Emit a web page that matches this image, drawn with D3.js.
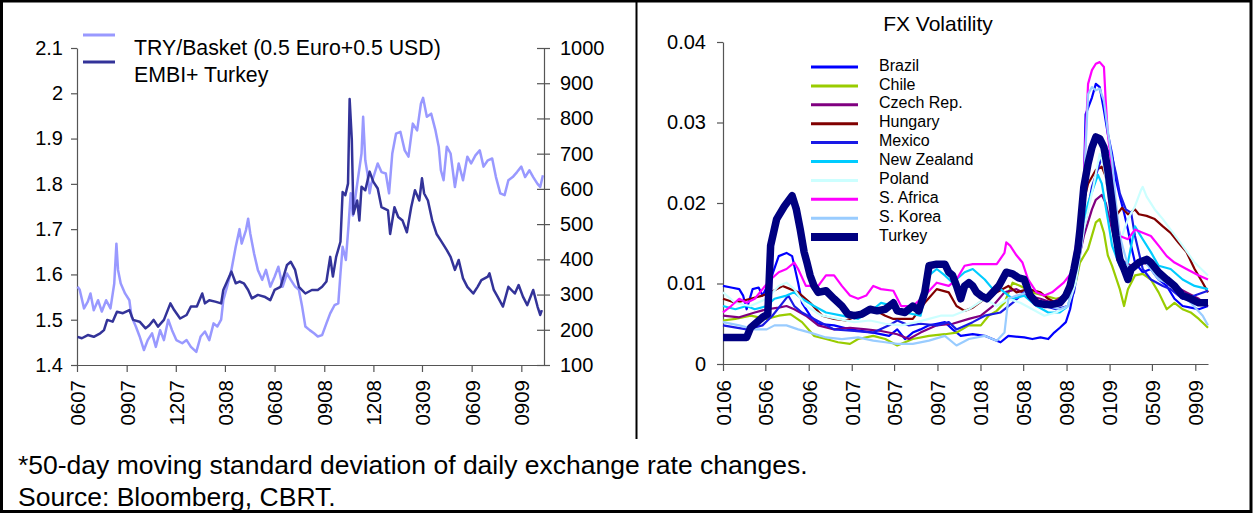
<!DOCTYPE html>
<html><head><meta charset="utf-8">
<script src="https://cdn.jsdelivr.net/npm/d3@7"></script>
<style>
body{margin:0;background:#fff}
svg{display:block}
text{font-family:"Liberation Sans",Arial,Helvetica,sans-serif;fill:#000}
</style></head>
<body><svg id="chart" width="1256" height="514"></svg>
<script>
// ---------------- DATA ----------------
// Left panel: TRY/Basket (left axis) and EMBI+ Turkey spread (right axis)
const leftXTickDates = ["2007-06-01","2007-09-01","2007-12-01","2008-03-01","2008-06-01","2008-09-01","2008-12-01","2009-03-01","2009-06-01","2009-09-01"];
const leftYTicks = [1.4,1.5,1.6,1.7,1.8,1.9,2.0,2.1];
const leftYTickLabels = ["1.4","1.5","1.6","1.7","1.8","1.9","2","2.1"];
const rightYTicks = [100,200,300,400,500,600,700,800,900,1000];
const leftSeriesNames = ["TRY/Basket (0.5 Euro+0.5 USD)","EMBI+ Turkey"];

const tryBasket = [["2007-06-02",1.573],["2007-06-06",1.566],["2007-06-14",1.525],["2007-06-21",1.54],["2007-06-26",1.558],["2007-07-02",1.521],["2007-07-10",1.543],["2007-07-17",1.518],["2007-07-25",1.543],["2007-08-02",1.525],["2007-08-09",1.58],["2007-08-13",1.668],["2007-08-16",1.61],["2007-08-21",1.58],["2007-08-29",1.558],["2007-09-06",1.543],["2007-09-10",1.507],["2007-09-18",1.485],["2007-09-25",1.463],["2007-10-03",1.433],["2007-10-10",1.455],["2007-10-18",1.47],["2007-10-25",1.44],["2007-11-02",1.477],["2007-11-09",1.455],["2007-11-17",1.5],["2007-11-24",1.477],["2007-12-02",1.455],["2007-12-13",1.448],["2007-12-21",1.455],["2007-12-29",1.44],["2008-01-08",1.429],["2008-01-16",1.463],["2008-01-24",1.474],["2008-02-01",1.455],["2008-02-09",1.492],["2008-02-16",1.485],["2008-02-23",1.5],["2008-02-27",1.543],["2008-03-05",1.573],["2008-03-13",1.61],["2008-03-21",1.661],["2008-03-28",1.7],["2008-04-01",1.668],["2008-04-09",1.698],["2008-04-13",1.723],["2008-04-17",1.69],["2008-04-24",1.646],["2008-05-01",1.61],["2008-05-09",1.588],["2008-05-16",1.61],["2008-05-24",1.573],["2008-06-01",1.595],["2008-06-08",1.617],["2008-06-16",1.573],["2008-06-24",1.602],["2008-07-01",1.588],["2008-07-09",1.573],["2008-07-16",1.566],["2008-07-22",1.529],["2008-07-28",1.485],["2008-08-05",1.477],["2008-08-13",1.47],["2008-08-20",1.463],["2008-08-28",1.466],["2008-09-05",1.492],["2008-09-12",1.514],["2008-09-20",1.532],["2008-09-27",1.536],["2008-10-01",1.602],["2008-10-05",1.661],["2008-10-11",1.632],["2008-10-16",1.709],["2008-10-20",1.779],["2008-10-24",1.73],["2008-11-01",1.8],["2008-11-09",1.867],["2008-11-12",1.948],["2008-11-16",1.852],["2008-11-20",1.823],["2008-11-24",1.779],["2008-11-27",1.8],["2008-12-01",1.815],["2008-12-09",1.845],["2008-12-16",1.826],["2008-12-24",1.823],["2008-12-30",1.779],["2009-01-05",1.867],["2009-01-12",1.911],["2009-01-20",1.915],["2009-01-28",1.874],["2009-02-04",1.86],["2009-02-12",1.933],["2009-02-20",1.918],["2009-02-27",1.977],["2009-03-03",1.99],["2009-03-10",1.948],["2009-03-18",1.955],["2009-03-26",1.918],["2009-04-01",1.882],["2009-04-05",1.83],["2009-04-10",1.808],["2009-04-16",1.882],["2009-04-23",1.867],["2009-05-01",1.793],["2009-05-08",1.845],["2009-05-16",1.808],["2009-05-24",1.86],["2009-05-31",1.845],["2009-06-08",1.863],["2009-06-16",1.874],["2009-06-23",1.838],["2009-07-01",1.852],["2009-07-09",1.856],["2009-07-16",1.815],["2009-07-24",1.779],["2009-08-01",1.775],["2009-08-08",1.808],["2009-08-16",1.815],["2009-08-24",1.826],["2009-09-01",1.838],["2009-09-08",1.815],["2009-09-16",1.83],["2009-09-23",1.815],["2009-10-01",1.8],["2009-10-06",1.793],["2009-10-11",1.819]];

const embiTurkey = [["2007-06-02",180],["2007-06-10",176],["2007-06-21",185],["2007-07-02",180],["2007-07-14",190],["2007-07-21",199],["2007-07-27",228],["2007-08-06",223],["2007-08-14",251],["2007-08-25",247],["2007-09-06",256],["2007-09-13",228],["2007-09-25",223],["2007-10-06",204],["2007-10-13",213],["2007-10-21",228],["2007-10-29",209],["2007-11-09",228],["2007-11-21",275],["2007-11-28",256],["2007-12-09",232],["2007-12-21",242],["2007-12-29",266],["2008-01-09",266],["2008-01-19",303],["2008-01-24",275],["2008-02-01",284],["2008-02-12",280],["2008-02-23",275],["2008-02-27",313],["2008-03-05",337],["2008-03-13",365],["2008-03-21",332],["2008-03-28",337],["2008-04-05",332],["2008-04-13",313],["2008-04-20",289],["2008-05-01",299],["2008-05-13",294],["2008-05-24",284],["2008-06-01",313],["2008-06-12",322],["2008-06-24",384],["2008-07-01",393],["2008-07-09",370],["2008-07-16",322],["2008-07-28",303],["2008-08-09",313],["2008-08-20",313],["2008-08-28",322],["2008-09-05",337],["2008-09-12",407],["2008-09-17",351],["2008-09-23",407],["2008-10-01",450],["2008-10-05",591],["2008-10-10",582],["2008-10-15",615],["2008-10-18",855],["2008-10-22",740],["2008-10-25",529],["2008-11-01",567],["2008-11-05",510],["2008-11-09",606],["2008-11-16",596],["2008-11-24",649],["2008-12-01",620],["2008-12-09",601],["2008-12-16",548],["2008-12-28",539],["2009-01-01",472],["2009-01-09",548],["2009-01-16",520],["2009-01-24",510],["2009-02-01",477],["2009-02-09",548],["2009-02-16",596],["2009-02-24",567],["2009-03-01",630],["2009-03-05",587],["2009-03-12",567],["2009-03-20",510],["2009-03-28",472],["2009-04-05",453],["2009-04-16",426],["2009-04-23",407],["2009-05-01",370],["2009-05-08",398],["2009-05-16",346],["2009-05-24",322],["2009-06-04",303],["2009-06-12",322],["2009-06-19",341],["2009-07-01",351],["2009-07-04",360],["2009-07-12",313],["2009-07-19",294],["2009-07-29",266],["2009-08-08",322],["2009-08-20",303],["2009-08-27",327],["2009-09-04",294],["2009-09-12",270],["2009-09-23",313],["2009-10-01",266],["2009-10-06",242],["2009-10-09",256]];

// Right panel: FX volatility
const fxXTickDates = ["2006-01-01","2006-05-01","2006-09-01","2007-01-01","2007-05-01","2007-09-01","2008-01-01","2008-05-01","2008-09-01","2009-01-01","2009-05-01","2009-09-01"];
const fxYTicks = [0,0.01,0.02,0.03,0.04];
const fxYTickLabels = ["0","0.01","0.02","0.03","0.04"];
const fxCountries = ["Brazil","Chile","Czech Rep.","Hungary","Mexico","New Zealand","Poland","S. Africa","S. Korea","Turkey"];

const brazil = [["2006-01-01",.0097],["2006-01-24",.0095],["2006-02-16",.0093],["2006-02-27",.0085],["2006-03-09",.0068],["2006-03-26",.0093],["2006-04-12",.0095],["2006-04-23",.0085],["2006-05-16",.0105],["2006-06-08",.0134],["2006-06-30",.0138],["2006-07-16",.0134],["2006-08-02",.0101],["2006-08-13",.0076],["2006-09-05",.006],["2006-09-28",.005],["2006-11-12",.0048],["2006-12-27",.0043],["2007-03-03",.0039],["2007-04-17",.0035],["2007-05-10",.0043],["2007-06-01",.0031],["2007-06-23",.0039],["2007-07-15",.0043],["2007-08-08",.0048],["2007-08-30",.005],["2007-09-22",.0052],["2007-10-14",.0043],["2007-11-06",.0035],["2007-12-10",.0037],["2008-01-13",.0035],["2008-02-16",.0029],["2008-02-27",.0027],["2008-03-20",.0035],["2008-05-04",.0033],["2008-05-27",.0031],["2008-06-19",.0033],["2008-07-11",.0031],["2008-07-28",.0039],["2008-08-13",.0045],["2008-08-30",.0052],["2008-09-11",.0068],["2008-09-22",.0093],["2008-10-03",.0126],["2008-10-09",.0159],["2008-10-20",.022],["2008-10-25",.031],["2008-11-12",.0331],["2008-11-23",.0348],["2008-12-04",.0344],["2008-12-16",.0315],["2008-12-27",.0286],["2009-01-08",.0261],["2009-01-19",.0229],["2009-01-30",.0208],["2009-02-11",.0188],["2009-02-22",.0167],["2009-03-03",.0147],["2009-03-14",.0126],["2009-04-05",.0114],["2009-04-28",.0118],["2009-05-20",.0105],["2009-06-12",.0097],["2009-07-04",.0081],["2009-07-27",.0072],["2009-08-19",.007],["2009-09-11",.0068],["2009-10-07",.0072]];
const chile = [["2006-01-01",.0054],["2006-02-05",.0056],["2006-03-20",.006],["2006-05-05",.0056],["2006-06-08",.006],["2006-07-11",.0062],["2006-08-13",.0052],["2006-09-16",.0035],["2006-10-20",.0031],["2006-11-23",.0027],["2006-12-27",.0025],["2007-01-19",.0031],["2007-03-03",.0035],["2007-04-06",.0031],["2007-05-10",.0023],["2007-06-23",.0031],["2007-08-08",.0035],["2007-09-22",.0037],["2007-10-25",.0039],["2007-11-29",.0048],["2008-01-02",.0048],["2008-01-24",.006],["2008-02-16",.0066],["2008-03-09",.0076],["2008-04-01",.0101],["2008-04-23",.0097],["2008-05-27",.0089],["2008-06-30",.0085],["2008-08-02",.0081],["2008-09-05",.0085],["2008-09-27",.0101],["2008-10-09",.0126],["2008-11-01",.0143],["2008-11-23",.0176],["2008-12-04",.018],["2008-12-16",.0163],["2008-12-27",.0135],["2009-01-08",.0122],["2009-01-30",.0093],["2009-02-11",.0072],["2009-02-22",.0093],["2009-03-14",.011],["2009-04-05",.0112],["2009-04-28",.0105],["2009-05-20",.0089],["2009-06-12",.0068],["2009-07-04",.0076],["2009-07-27",.0068],["2009-08-19",.0064],["2009-09-11",.0056],["2009-10-07",.0045]];
const czech = [["2006-01-01",.006],["2006-02-16",.0058],["2006-04-01",.0064],["2006-05-05",.0068],["2006-06-08",.007],["2006-06-30",.0072],["2006-07-22",.0068],["2006-08-24",.006],["2006-09-28",.0048],["2006-11-12",.0043],["2006-12-27",.0045],["2007-02-11",.0043],["2007-03-25",.0041],["2007-05-10",.0037],["2007-06-12",.0031],["2007-07-15",.0039],["2007-08-30",.0048],["2007-10-14",.005],["2007-11-29",.0056],["2008-01-02",.006],["2008-02-05",.0072],["2008-03-09",.0089],["2008-04-12",.0093],["2008-05-15",.0085],["2008-06-19",.0081],["2008-07-22",.0076],["2008-08-24",.0085],["2008-09-16",.0097],["2008-10-03",.0126],["2008-10-20",.0159],["2008-11-12",.0192],["2008-11-23",.0204],["2008-12-10",.021],["2008-12-21",.02],["2009-01-08",.0167],["2009-01-30",.013],["2009-03-03",.0122],["2009-04-05",.0126],["2009-04-28",.0122],["2009-06-01",.011],["2009-07-04",.0097],["2009-08-07",.0089],["2009-09-11",.0081],["2009-10-07",.0072]];
const hungary = [["2006-01-01",.0081],["2006-02-05",.0076],["2006-03-20",.0081],["2006-04-23",.0085],["2006-05-16",.0089],["2006-06-19",.0097],["2006-07-11",.0093],["2006-08-02",.0089],["2006-09-05",.0076],["2006-10-09",.006],["2006-11-12",.0056],["2006-12-15",.0054],["2007-01-19",.006],["2007-02-11",.0068],["2007-03-03",.0068],["2007-04-06",.006],["2007-04-29",.0056],["2007-06-23",.0056],["2007-07-27",.0076],["2007-08-30",.0093],["2007-10-03",.0089],["2007-10-25",.0072],["2007-11-17",.0066],["2007-12-10",.007],["2008-01-13",.0081],["2008-02-16",.0089],["2008-03-20",.0097],["2008-04-12",.0089],["2008-05-15",.0093],["2008-06-19",.0089],["2008-07-11",.0081],["2008-08-02",.0076],["2008-08-24",.0081],["2008-09-16",.0101],["2008-10-03",.0126],["2008-10-14",.0192],["2008-11-01",.0224],["2008-11-23",.0241],["2008-12-10",.0245],["2008-12-21",.0233],["2009-01-02",.02],["2009-01-19",.0184],["2009-02-05",.0194],["2009-02-22",.0186],["2009-03-14",.0192],["2009-03-25",.0186],["2009-04-16",.0184],["2009-05-09",.018],["2009-06-01",.0171],["2009-06-23",.0163],["2009-07-15",.0151],["2009-08-07",.0139],["2009-08-30",.0118],["2009-09-22",.0101],["2009-10-07",.0089]];
const mexico = [["2006-01-01",.0048],["2006-03-09",.0043],["2006-04-23",.0048],["2006-05-21",.006],["2006-06-19",.0076],["2006-07-05",.0085],["2006-07-22",.0072],["2006-08-13",.0064],["2006-09-16",.0056],["2006-11-12",.0043],["2007-01-08",.0041],["2007-03-03",.0039],["2007-04-17",.0048],["2007-05-10",.0054],["2007-06-12",.0048],["2007-07-15",.005],["2007-08-30",.0048],["2007-10-03",.0052],["2007-10-25",.0043],["2007-12-10",.0052],["2008-01-13",.006],["2008-02-27",.0064],["2008-04-01",.0076],["2008-05-04",.0089],["2008-05-27",.0081],["2008-06-30",.0072],["2008-08-02",.0068],["2008-09-05",.0072],["2008-09-22",.0089],["2008-10-03",.0118],["2008-10-20",.0167],["2008-11-12",.022],["2008-12-04",.0249],["2008-12-21",.0269],["2009-01-08",.0257],["2009-01-19",.0237],["2009-01-30",.0212],["2009-02-16",.0192],["2009-03-03",.0188],["2009-03-14",.0159],["2009-04-05",.0118],["2009-04-28",.0105],["2009-06-01",.0097],["2009-06-23",.0093],["2009-07-27",.0081],["2009-08-30",.0085],["2009-10-07",.0091]];
const newZealand = [["2006-01-01",.0072],["2006-02-05",.0068],["2006-03-09",.0072],["2006-04-01",.0068],["2006-05-05",.0072],["2006-05-27",.0081],["2006-06-30",.0085],["2006-07-22",.0089],["2006-08-13",.0081],["2006-09-16",.0072],["2006-10-20",.0064],["2006-12-04",.006],["2007-01-19",.0056],["2007-03-03",.0068],["2007-03-25",.0076],["2007-04-29",.0072],["2007-06-01",.0064],["2007-07-15",.006],["2007-08-08",.011],["2007-08-30",.0118],["2007-09-22",.011],["2007-10-14",.0101],["2007-11-17",.0114],["2007-12-10",.0118],["2008-01-13",.0105],["2008-02-05",.0093],["2008-02-27",.0093],["2008-04-01",.0081],["2008-05-04",.0085],["2008-06-08",.0072],["2008-07-11",.0064],["2008-08-13",.0064],["2008-09-05",.0072],["2008-09-27",.011],["2008-10-14",.0167],["2008-11-01",.02],["2008-11-29",.0235],["2008-12-10",.0224],["2008-12-27",.018],["2009-01-08",.0147],["2009-01-30",.0122],["2009-02-22",.0126],["2009-03-14",.0171],["2009-04-05",.0155],["2009-04-28",.0139],["2009-05-20",.0122],["2009-06-23",.0118],["2009-07-27",.0105],["2009-08-30",.0097],["2009-10-07",.0093]];
const poland = [["2006-01-01",.0089],["2006-02-05",.0076],["2006-03-20",.0072],["2006-05-05",.0081],["2006-06-08",.0097],["2006-06-30",.0101],["2006-07-22",.0093],["2006-08-24",.0072],["2006-10-09",.006],["2006-11-23",.0056],["2007-01-08",.0052],["2007-02-22",.0054],["2007-04-06",.005],["2007-05-21",.0048],["2007-07-04",.0052],["2007-08-08",.0056],["2007-09-10",.006],["2007-10-14",.006],["2007-11-29",.0068],["2008-01-13",.0081],["2008-02-16",.0072],["2008-03-20",.0081],["2008-04-23",.0076],["2008-05-27",.0068],["2008-06-30",.006],["2008-08-02",.0064],["2008-09-05",.0072],["2008-09-27",.0101],["2008-10-20",.0167],["2008-11-12",.0212],["2008-12-04",.0261],["2008-12-16",.0245],["2009-01-08",.018],["2009-01-30",.0151],["2009-02-22",.018],["2009-03-14",.0196],["2009-03-31",.0216],["2009-04-05",.022],["2009-04-16",.0208],["2009-05-09",.0192],["2009-06-01",.018],["2009-06-23",.0167],["2009-07-27",.0147],["2009-08-30",.0126],["2009-10-07",.011]];
const sAfrica = [["2006-01-01",.0064],["2006-01-24",.0072],["2006-02-16",.0081],["2006-03-09",.0076],["2006-04-01",.0081],["2006-04-23",.0093],["2006-05-16",.0105],["2006-06-08",.0114],["2006-06-30",.0118],["2006-07-22",.0126],["2006-08-02",.0118],["2006-08-24",.0097],["2006-09-28",.0097],["2006-10-20",.011],["2006-11-12",.011],["2006-12-04",.0097],["2006-12-27",.0085],["2007-01-19",.0081],["2007-02-11",.0085],["2007-03-03",.0097],["2007-03-25",.0093],["2007-04-29",.0091],["2007-05-21",.0072],["2007-06-23",.0072],["2007-07-27",.0085],["2007-08-30",.0101],["2007-10-03",.0097],["2007-10-25",.0105],["2007-11-17",.0122],["2007-12-10",.0124],["2008-01-13",.0124],["2008-02-16",.0124],["2008-03-09",.0138],["2008-03-14",.0151],["2008-03-25",.0147],["2008-04-12",.0135],["2008-04-29",.0126],["2008-05-15",.0105],["2008-06-08",.0089],["2008-06-30",.0085],["2008-07-22",.0089],["2008-08-24",.0101],["2008-09-16",.0114],["2008-10-09",.018],["2008-10-20",.0233],["2008-11-01",.0348],["2008-11-12",.0365],["2008-11-23",.0373],["2008-12-04",.0375],["2008-12-16",.0369],["2008-12-21",.0327],["2008-12-27",.0286],["2009-01-08",.0241],["2009-01-19",.0188],["2009-01-30",.0159],["2009-02-22",.0155],["2009-03-14",.0167],["2009-04-05",.0163],["2009-04-28",.0159],["2009-05-20",.0147],["2009-06-12",.0134],["2009-07-04",.0126],["2009-08-07",.0118],["2009-09-11",.011],["2009-10-07",.0105]];
const sKorea = [["2006-01-01",.0052],["2006-02-16",.0048],["2006-04-01",.0043],["2006-05-05",.0043],["2006-05-27",.0048],["2006-06-30",.0048],["2006-08-02",.0043],["2006-09-05",.0039],["2006-10-20",.0033],["2006-12-04",.0031],["2007-01-19",.0033],["2007-03-03",.0029],["2007-04-06",.0027],["2007-05-10",.0025],["2007-06-23",.0025],["2007-08-08",.0029],["2007-09-22",.0035],["2007-10-25",.0023],["2007-11-29",.0031],["2008-01-13",.0035],["2008-02-16",.0029],["2008-03-09",.0039],["2008-03-20",.0081],["2008-04-12",.0085],["2008-05-15",.0089],["2008-06-08",.0076],["2008-07-11",.0072],["2008-08-13",.0068],["2008-09-05",.0072],["2008-09-22",.0105],["2008-10-09",.0167],["2008-10-20",.022],["2008-11-01",.0335],["2008-11-12",.0344],["2008-11-23",.034],["2008-12-04",.0342],["2008-12-16",.0327],["2008-12-27",.029],["2009-01-08",.0253],["2009-01-19",.02],["2009-01-30",.0159],["2009-02-22",.0122],["2009-03-14",.0118],["2009-04-05",.013],["2009-04-28",.0118],["2009-05-20",.0105],["2009-06-12",.0101],["2009-07-15",.0089],["2009-08-19",.0076],["2009-09-22",.006],["2009-10-07",.0048]];
const turkey = [["2006-01-01",.0033],["2006-03-09",.0033],["2006-03-20",.0045],["2006-04-23",.0058],["2006-05-08",.0062],["2006-05-16",.0147],["2006-06-02",.018],["2006-06-24",.0196],["2006-07-16",.0209],["2006-07-28",.0192],["2006-08-08",.0167],["2006-08-19",.0139],["2006-08-27",.0126],["2006-09-05",.011],["2006-09-16",.0097],["2006-09-28",.0089],["2006-10-20",.0091],["2006-11-12",.0081],["2006-12-04",.0072],["2006-12-21",.0062],["2007-01-08",.006],["2007-01-30",.0062],["2007-02-22",.0068],["2007-03-14",.0066],["2007-04-06",.0068],["2007-04-29",.0076],["2007-05-10",.0066],["2007-06-01",.0064],["2007-06-23",.0072],["2007-07-10",.0066],["2007-07-27",.0089],["2007-08-08",.0122],["2007-08-30",.0124],["2007-09-22",.0124],["2007-10-03",.0114],["2007-10-14",.011],["2007-10-25",.0097],["2007-11-06",.0081],["2007-11-17",.0097],["2007-11-29",.0101],["2007-12-10",.0097],["2007-12-21",.0089],["2008-01-02",.0085],["2008-01-19",.0081],["2008-02-05",.0089],["2008-02-22",.0097],["2008-03-14",.0114],["2008-04-01",.0112],["2008-04-18",.0107],["2008-05-04",.0105],["2008-05-21",.0085],["2008-06-08",.0076],["2008-06-30",.0074],["2008-07-22",.0074],["2008-08-13",.0076],["2008-08-30",.0085],["2008-09-11",.0097],["2008-09-22",.0118],["2008-10-03",.0143],["2008-10-09",.0167],["2008-10-20",.022],["2008-11-01",.0249],["2008-11-12",.0269],["2008-11-23",.0282],["2008-12-04",.028],["2008-12-16",.0269],["2008-12-27",.0241],["2009-01-08",.02],["2009-01-19",.0159],["2009-01-30",.013],["2009-02-11",.0118],["2009-02-22",.0105],["2009-03-03",.0118],["2009-03-25",.0126],["2009-04-16",.013],["2009-04-28",.0126],["2009-05-20",.0114],["2009-06-12",.0105],["2009-07-04",.0097],["2009-07-27",.0085],["2009-08-19",.0081],["2009-09-11",.0076],["2009-10-07",.0076]];

const fxSeries = [brazil, chile, czech, hungary, mexico, newZealand, poland, sAfrica, sKorea, turkey];

const footnotes = ["*50-day moving standard deviation of daily exchange rate changes.","Source: Bloomberg, CBRT."];

// ---------------- STYLE ----------------
const fxColors = ["#0000FF","#99CC00","#800080","#800000","#1A1AE6","#00CCFF","#CCFFFF","#FF00FF","#99CCFF","#000080"];
const fxWidths = [2.2,2.2,2.2,2.2,2.2,2.2,2.2,2.2,2.2,7.5];
const leftColors = ["#9999FF","#333399"];
const AXIS = "#555";

const parse = d3.timeParse("%Y-%m-%d");
const fmtMY = d3.timeFormat("%m%y");
const svg = d3.select("#chart");

// frame
svg.append("rect").attr("x",1.5).attr("y",1).attr("width",1249.5).attr("height",510.5)
  .attr("fill","none").attr("stroke","#000").attr("stroke-width",3);
svg.append("line").attr("x1",636.5).attr("x2",636.5).attr("y1",0).attr("y2",439)
  .attr("stroke","#000").attr("stroke-width",2);

function styleAxis(g){
  g.select(".domain").attr("stroke",AXIS).attr("stroke-width",1.2);
  g.selectAll(".tick line").attr("stroke",AXIS).attr("stroke-width",1.2);
  g.selectAll(".tick text").attr("font-family",'"Liberation Sans",Arial,sans-serif').attr("fill","#000");
}

// ===== LEFT PANEL =====
const L = {x0:77, x1:544, yTop:48, yBot:365};
const xL = d3.scaleTime().domain([parse("2007-06-01"), parse("2009-10-13")]).range([L.x0, L.x1]);
const yL = d3.scaleLinear().domain([1.4,2.1]).range([L.yBot, L.yTop]);
const yR = d3.scaleLinear().domain([100,1000]).range([L.yBot, L.yTop]);

const gLX = svg.append("g").attr("transform",`translate(0,${L.yBot})`)
  .call(d3.axisBottom(xL).tickValues(leftXTickDates.map(parse)).tickFormat(fmtMY).tickSize(7).tickSizeOuter(0));
styleAxis(gLX);
gLX.selectAll(".tick text").attr("font-size",20.5).attr("transform","rotate(-90)")
  .attr("text-anchor","end").attr("x",-15).attr("y",0).attr("dy","0.36em");

const gLY = svg.append("g").attr("transform",`translate(${L.x0},0)`)
  .call(d3.axisLeft(yL).tickValues(leftYTicks).tickFormat((d,i)=>leftYTickLabels[i]).tickSize(6).tickPadding(8).tickSizeOuter(0));
styleAxis(gLY);
gLY.selectAll(".tick text").attr("font-size",20);

const gRY = svg.append("g").attr("transform",`translate(${L.x1},0)`)
  .call(d3.axisRight(yR).tickValues(rightYTicks).tickFormat(d3.format("d")).tickSize(6).tickPadding(10).tickSizeOuter(0));
styleAxis(gRY);
gRY.selectAll(".tick line").attr("x1",-7);
gRY.selectAll(".tick text").attr("font-size",20);

const lineL = d3.line().x(d=>xL(parse(d[0]))).y(d=>yL(d[1]));
const lineR = d3.line().x(d=>xL(parse(d[0]))).y(d=>yR(d[1]));
svg.append("path").datum(tryBasket).attr("d",lineL).attr("fill","none")
  .attr("stroke",leftColors[0]).attr("stroke-width",2.5).attr("stroke-linejoin","round");
svg.append("path").datum(embiTurkey).attr("d",lineR).attr("fill","none")
  .attr("stroke",leftColors[1]).attr("stroke-width",2.5).attr("stroke-linejoin","round");

// left legend
const legL = svg.append("g");
[35,62].forEach((ly,i)=>{
  legL.append("line").attr("x1",83).attr("x2",115).attr("y1",ly).attr("y2",ly)
    .attr("stroke",leftColors[i]).attr("stroke-width",3);
  legL.append("text").attr("x",134).attr("y",ly+13).attr("dy","0.35em")
    .attr("font-size",21.3).text(leftSeriesNames[i]);
});

// ===== RIGHT PANEL =====
const R = {x0:723, x1:1208, yTop:42, yBot:364};
const xF = d3.scaleTime().domain([parse("2006-01-01"), parse("2009-10-07")]).range([R.x0, R.x1]);
const yF = d3.scaleLinear().domain([0,0.04]).range([R.yBot, R.yTop]);

const gFX = svg.append("g").attr("transform",`translate(0,${R.yBot})`)
  .call(d3.axisBottom(xF).tickValues(fxXTickDates.map(parse)).tickFormat(fmtMY).tickSize(7).tickSizeOuter(0));
styleAxis(gFX);
gFX.selectAll(".tick text").attr("font-size",20.5).attr("transform","rotate(-90)")
  .attr("text-anchor","end").attr("x",-16).attr("y",0).attr("dy","0.36em");

const gFY = svg.append("g").attr("transform",`translate(${R.x0},0)`)
  .call(d3.axisLeft(yF).tickValues(fxYTicks).tickFormat((d,i)=>fxYTickLabels[i]).tickSize(6).tickPadding(11).tickSizeOuter(0));
styleAxis(gFY);
gFY.selectAll(".tick text").attr("font-size",20);

svg.append("text").attr("x",938).attr("y",24).attr("dy","0.35em").attr("text-anchor","middle")
  .attr("font-size",21).text("FX Volatility");

const lineF = d3.line().x(d=>xF(parse(d[0]))).y(d=>yF(d[1]));
fxSeries.forEach((s,i)=>{
  svg.append("path").datum(s).attr("d",lineF).attr("fill","none")
    .attr("stroke",fxColors[i]).attr("stroke-width",fxWidths[i]).attr("stroke-linejoin","round");
});

// right legend
const legF = svg.append("g");
fxCountries.forEach((c,i)=>{
  const ly = 67 + i*18.9;
  legF.append("line").attr("x1",811).attr("x2",858).attr("y1",ly).attr("y2",ly)
    .attr("stroke",fxColors[i]).attr("stroke-width", i===9 ? 8 : 3);
  legF.append("text").attr("x",879).attr("y",ly-2).attr("dy","0.35em").attr("font-size",16).text(c);
});

// footnotes
footnotes.forEach((t,i)=>{
  svg.append("text").attr("x",18).attr("y",465+i*32).attr("dy","0.35em").attr("font-size",26.5).text(t);
});
</script>
</body></html>
